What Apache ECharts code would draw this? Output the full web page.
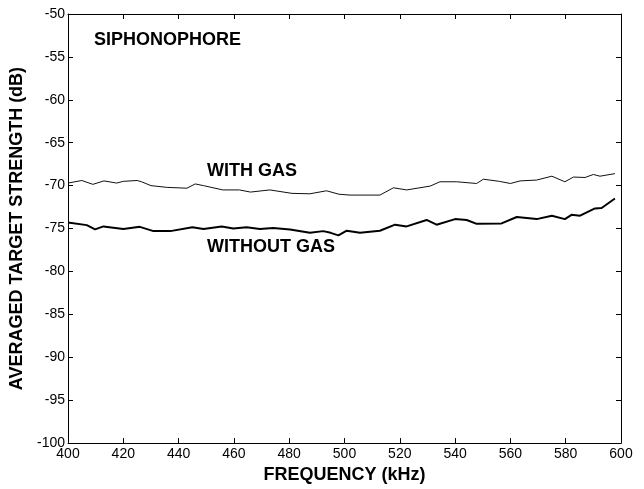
<!DOCTYPE html>
<html>
<head>
    <meta charset="UTF-8">
    <script src="https://cdn.jsdelivr.net/npm/echarts@6/dist/echarts.min.js"></script>
    <style>
      html, body { margin: 0; padding: 0; background: #fff; }
      #main { width: 644px; height: 489px; }
    </style>
</head>
<body>
<div id="main"></div>
<script>
    // frequency (kHz) and averaged target strength (dB)
    var withGasFreq = [400, 405, 409, 413, 417.6, 420, 425, 426.6, 430, 435.7, 443, 446, 449, 456, 462, 466,
        473, 481, 487.5, 493.5, 498, 502, 512.8, 517.7, 522.5, 531, 534.5, 540.6, 547.8, 550.2, 556, 560,
        563.5, 569.5, 575, 579.7, 582.8, 587, 590, 592.4, 597.8];
    var withGasTS = [-69.7, -69.4, -69.85, -69.45, -69.7, -69.5, -69.4, -69.55, -70.0, -70.2, -70.3, -69.8, -70.0, -70.5, -70.5, -70.75,
        -70.5, -70.9, -70.95, -70.6, -71.0, -71.1, -71.1, -70.25, -70.5, -70.05, -69.55, -69.55, -69.75, -69.25, -69.5, -69.75,
        -69.45, -69.35, -68.9, -69.55, -69.0, -69.05, -68.7, -68.9, -68.6];

    var withoutGasFreq = [400, 406.8, 409.8, 412.8, 420, 426, 430.9, 437, 445, 449, 455.6, 459.8, 464.6, 469.4, 474.2,
        480.3, 487.5, 492.3, 495, 497.8, 500.8, 505.6, 512.8, 518.3, 522.5, 529.7, 533.3, 540, 544.2, 547.8,
        556.8, 562.3, 569.5, 575, 579.7, 582.1, 585.2, 590.6, 593, 597.8];
    var withoutGasTS = [-74.3, -74.6, -75.1, -74.75, -75.05, -74.8, -75.3, -75.3, -74.85, -75.05, -74.75, -75.0, -74.85, -75.05, -74.95,
        -75.1, -75.5, -75.3, -75.5, -75.8, -75.25, -75.5, -75.25, -74.55, -74.75, -74.0, -74.55, -73.9, -74.0, -74.45,
        -74.4, -73.65, -73.9, -73.5, -73.9, -73.4, -73.5, -72.65, -72.6, -71.5];

    function pairs(xs, ys) {
        return xs.map(function (x, i) { return [x, ys[i]]; });
    }

    var font = 'Liberation Sans, Arial, Helvetica, sans-serif';
    var lineCol = '#000';

    function boxAxis(extra) {
        var a = {
            axisLine: { show: true, lineStyle: { color: lineCol, width: 1 } },
            axisTick: { show: true, inside: true, length: 5, lineStyle: { color: lineCol } },
            splitLine: { show: false },
            axisLabel: { show: false }
        };
        for (var k in extra) a[k] = extra[k];
        return a;
    }

    var myChart = echarts.init(document.getElementById('main'));
    var option = {
        animation: false,
        backgroundColor: '#fff',
        grid: { left: 68, right: 23, top: 14, bottom: 42 },
        xAxis: [
            boxAxis({
                type: 'value', min: 400, max: 600, interval: 20, position: 'bottom',
                axisLabel: { show: true, color: '#000', fontSize: 14, fontFamily: font, margin: 4 },
                name: 'FREQUENCY (kHz)', nameLocation: 'middle', nameGap: 19,
                nameTextStyle: { color: '#000', fontSize: 18, fontWeight: 'bold', fontFamily: font }
            }),
            boxAxis({ type: 'value', min: 400, max: 600, interval: 20, position: 'top' })
        ],
        yAxis: [
            boxAxis({
                type: 'value', min: -100, max: -50, interval: 5, position: 'left',
                axisLabel: { show: true, color: '#000', fontSize: 14, fontFamily: font, margin: 3 },
                name: 'AVERAGED TARGET STRENGTH (dB)', nameLocation: 'middle', nameGap: 28,
                nameTextStyle: { color: '#000', fontSize: 18, fontWeight: 'bold', fontFamily: font }
            }),
            boxAxis({ type: 'value', min: -100, max: -50, interval: 5, position: 'right' })
        ],
        graphic: [
            { type: 'text', left: 94, top: 31, style: { text: 'SIPHONOPHORE', fill: '#000', font: 'bold 18px ' + font } },
            { type: 'text', left: 207, top: 162, style: { text: 'WITH GAS', fill: '#000', font: 'bold 18px ' + font } },
            { type: 'text', left: 207, top: 238, style: { text: 'WITHOUT GAS', fill: '#000', font: 'bold 18px ' + font } }
        ],
        series: [
            {
                name: 'WITH GAS', type: 'line', showSymbol: false,
                data: pairs(withGasFreq, withGasTS),
                lineStyle: { color: '#111', width: 1 }
            },
            {
                name: 'WITHOUT GAS', type: 'line', showSymbol: false,
                data: pairs(withoutGasFreq, withoutGasTS),
                lineStyle: { color: '#000', width: 2 }
            }
        ]
    };

    myChart.setOption(option);
</script>
</body>
</html>
